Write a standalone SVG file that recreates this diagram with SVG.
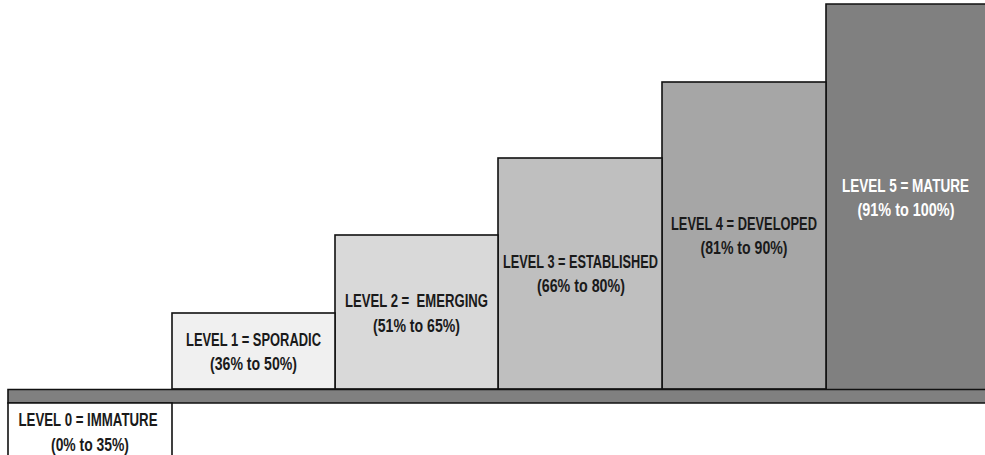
<svg xmlns="http://www.w3.org/2000/svg" width="985" height="455" viewBox="0 0 985 455">
  <style>
    .step { stroke: #111; stroke-width: 1.6; }
    .edge { fill: none; stroke: #111; stroke-width: 1.6; }
    .lbl { font-family: "Liberation Sans", Arial, sans-serif; font-weight: bold; font-size: 18px; fill: #1a1a1a; text-anchor: middle; }
    .light { fill: #ffffff; }
  </style>
  <rect width="985" height="455" fill="#ffffff"/>

  <!-- ascending maturity steps -->
  <g id="level5">
    <rect x="826" y="4" width="159" height="385" fill="#808080"/>
    <path class="edge" d="M985 4 H826 V389"/>
    <g transform="translate(905.5 0) scale(0.8 1)">
      <text class="lbl light" x="0" y="192" textLength="158.75" lengthAdjust="spacingAndGlyphs">LEVEL 5 = MATURE</text>
      <text class="lbl light" x="0.6" y="216" textLength="121.25" lengthAdjust="spacingAndGlyphs">(91% to 100%)</text>
    </g>
  </g>
  <g id="level4">
    <rect class="step" x="662" y="82" width="164" height="307" fill="#a6a6a6"/>
    <text class="lbl" x="744" y="230" textLength="146" lengthAdjust="spacingAndGlyphs">LEVEL 4 = DEVELOPED</text>
    <text class="lbl" x="744" y="254" textLength="87" lengthAdjust="spacingAndGlyphs">(81% to 90%)</text>
  </g>
  <g id="level3">
    <rect class="step" x="498" y="158" width="164" height="231" fill="#bfbfbf"/>
    <text class="lbl" x="580.5" y="268" textLength="155" lengthAdjust="spacingAndGlyphs">LEVEL 3 = ESTABLISHED</text>
    <text class="lbl" x="581" y="292" textLength="88" lengthAdjust="spacingAndGlyphs">(66% to 80%)</text>
  </g>
  <g id="level2">
    <rect class="step" x="335" y="235" width="163" height="154" fill="#d9d9d9"/>
    <text class="lbl" x="416.5" y="307" textLength="143" lengthAdjust="spacingAndGlyphs" xml:space="preserve">LEVEL 2 =  EMERGING</text>
    <text class="lbl" x="416.5" y="332" textLength="87" lengthAdjust="spacingAndGlyphs">(51% to 65%)</text>
  </g>
  <g id="level1">
    <rect class="step" x="172" y="313" width="163" height="76" fill="#f0f0f0"/>
    <text class="lbl" x="253.5" y="346" textLength="135" lengthAdjust="spacingAndGlyphs">LEVEL 1 = SPORADIC</text>
    <text class="lbl" x="253.5" y="370" textLength="87" lengthAdjust="spacingAndGlyphs">(36% to 50%)</text>
  </g>

  <!-- baseline bar -->
  <g id="baseline">
    <rect x="8" y="389.5" width="977" height="13.5" fill="#808080"/>
    <path class="edge" d="M985 389.5 H8 V403 H985"/>
  </g>

  <g id="level0">
    <rect x="8" y="403" width="164" height="52" fill="#ffffff"/>
    <path class="edge" d="M8 455 V403 H172 V455"/>
    <text class="lbl" x="88" y="426" textLength="139" lengthAdjust="spacingAndGlyphs">LEVEL 0 = IMMATURE</text>
    <text class="lbl" x="90" y="451" textLength="78" lengthAdjust="spacingAndGlyphs">(0% to 35%)</text>
  </g>
</svg>
